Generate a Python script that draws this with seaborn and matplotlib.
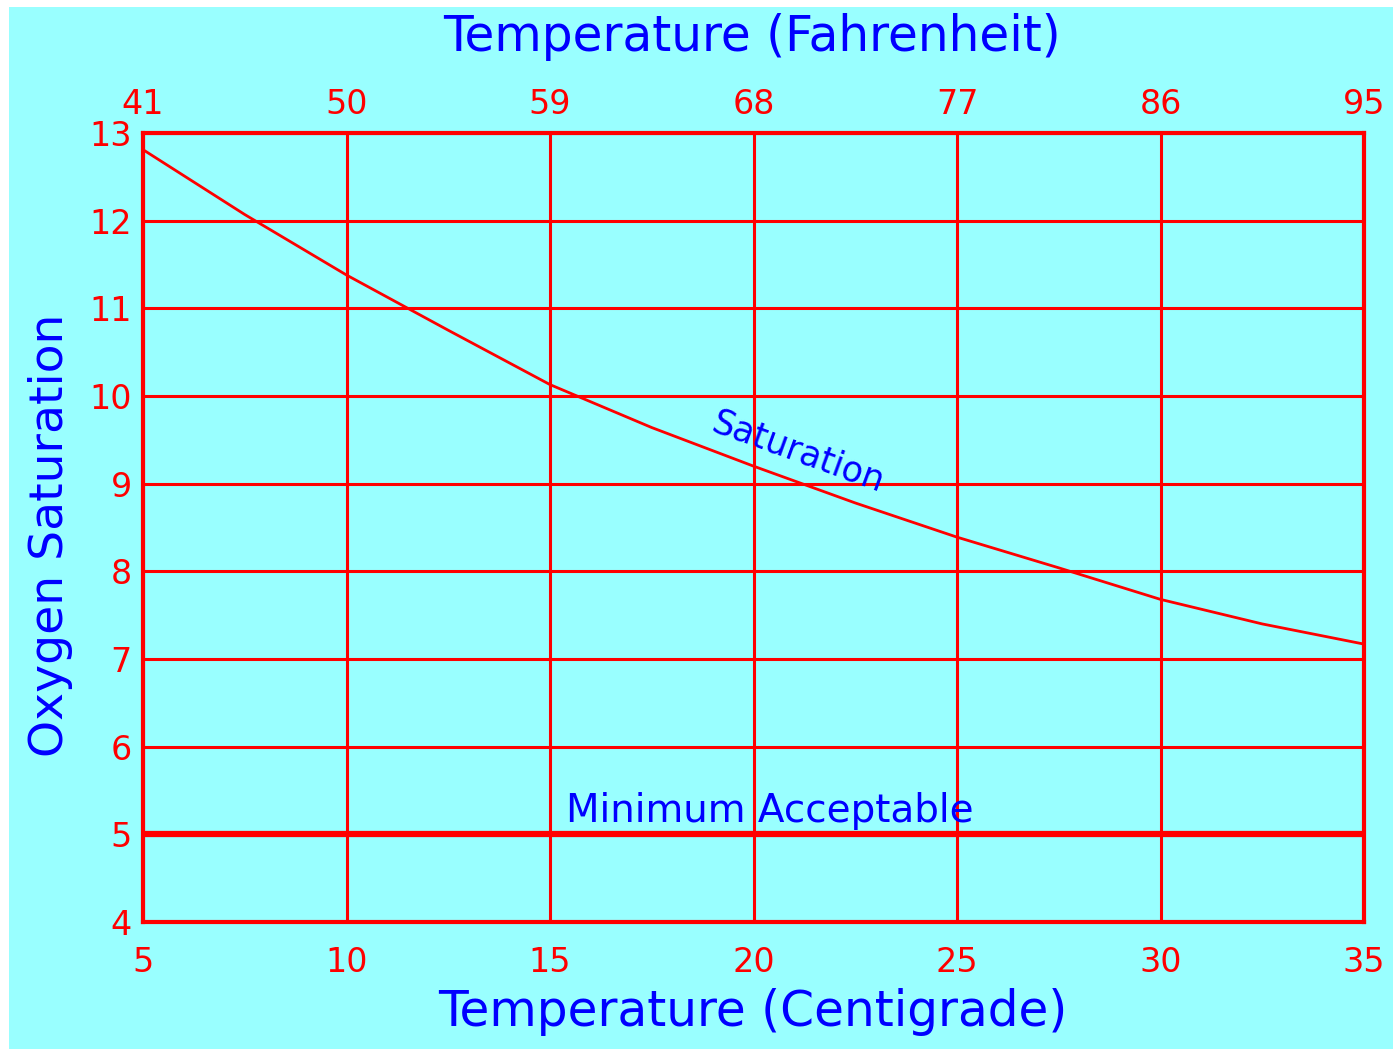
import numpy as np
import pandas as pd
import matplotlib
matplotlib.use('Agg')
import matplotlib.pyplot as plt
import seaborn as sns

# values
temp_c = [5, 7.5, 10, 12.5, 15, 17.5, 20, 22.5, 25, 27.5, 30, 32.5, 35]
oxygen = [12.81, 12.07, 11.38, 10.75, 10.13, 9.64, 9.20, 8.78, 8.39, 8.04, 7.68, 7.40, 7.17]
c_ticks = [5, 10, 15, 20, 25, 30, 35]
f_labels = ['41', '50', '59', '68', '77', '86', '95']
y_ticks = [4, 5, 6, 7, 8, 9, 10, 11, 12, 13]
min_acceptable = 5

RED = '#FF0000'
BLUE = '#0000FF'
CYAN = '#99FFFF'

sns.set_style('white')
plt.rcParams['font.family'] = ['DejaVu Sans']

df = pd.DataFrame({'temp': temp_c, 'oxygen': oxygen})

fig = plt.figure(figsize=(13.93, 10.49), dpi=100, facecolor='white')
# cyan panel with small white margin top/left
fig.patches.append(plt.Rectangle((9 / 1393, -0.1), 2, 1.1 - 7 / 1049,
                                 transform=fig.transFigure, facecolor=CYAN,
                                 edgecolor='none', zorder=-5))

ax = fig.add_axes([143 / 1393, 1 - 922 / 1049, (1364 - 143) / 1393, (922 - 133) / 1049])
ax.set_facecolor(CYAN)

sns.lineplot(data=df, x='temp', y='oxygen', color=RED, linewidth=2, ax=ax)
ax.axhline(min_acceptable, color=RED, linewidth=4.5, zorder=3)

ax.set_xlim(5, 35)
ax.set_ylim(4, 13)
ax.set_xticks(c_ticks)
ax.set_yticks(y_ticks)
ax.grid(True, color=RED, linewidth=2.2)
for s in ax.spines.values():
    s.set_color(RED)
    s.set_linewidth(3)

ax.tick_params(axis='x', length=0, pad=17, labelsize=24, labelcolor=RED)
ax.tick_params(axis='y', length=0, pad=8, labelsize=24, labelcolor=RED)

ax.set_xlabel('Temperature (Centigrade)', color=BLUE, fontsize=35)
ax.xaxis.set_label_coords(0.499, -0.084)
ax.set_ylabel('Oxygen Saturation', color=BLUE, fontsize=34)
ax.yaxis.set_label_coords(-0.057, 0.49)

top = ax.twiny()
top.set_xlim(ax.get_xlim())
top.set_xticks(c_ticks)
top.set_xticklabels(f_labels)
top.tick_params(axis='x', length=0, pad=9, labelsize=24, labelcolor=RED)
top.set_xlabel('Temperature (Fahrenheit)', color=BLUE, fontsize=35)
top.xaxis.set_label_coords(0.499, 1.104)
for s in top.spines.values():
    s.set_visible(False)

ax.text(21.1, 9.36, 'Saturation', color=BLUE, fontsize=25, rotation=-20,
        ha='center', va='center', zorder=4)
ax.text(20.4, 5.05, 'Minimum Acceptable', color=BLUE, fontsize=28,
        ha='center', va='bottom', zorder=4)

fig.savefig('out.png', dpi=100, facecolor=fig.get_facecolor())
